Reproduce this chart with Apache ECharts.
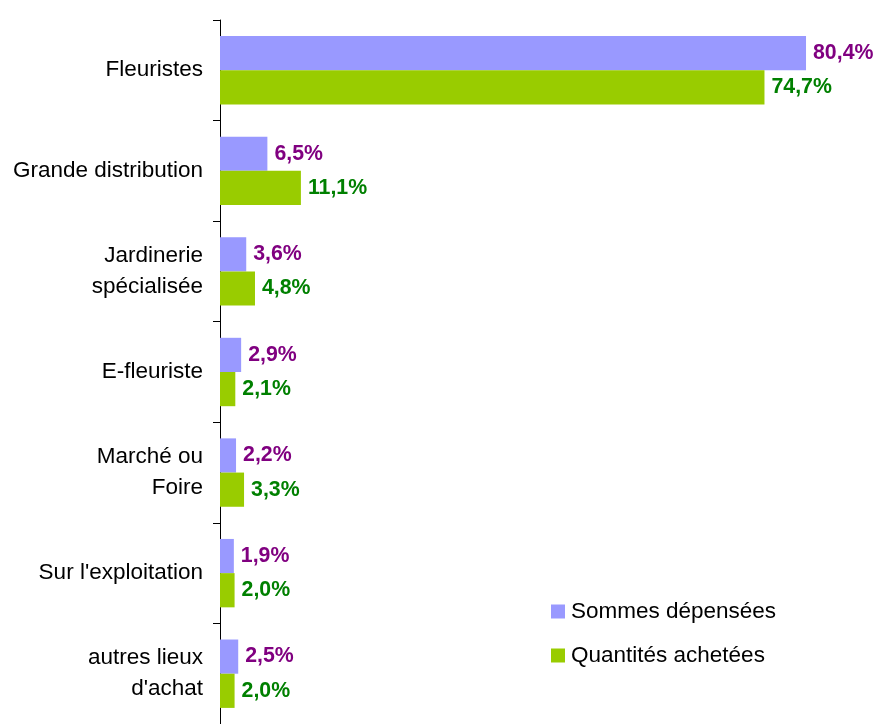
<!DOCTYPE html>
<html>
<head>
<meta charset="utf-8">
<script src="https://cdn.jsdelivr.net/npm/echarts@6/dist/echarts.min.js"></script>
<style>
  html, body { margin: 0; padding: 0; background: #fff; }
  #chart { width: 877px; height: 724px; }
</style>
</head>
<body>
<div id="chart"></div>
<script>
// circuits de distribution
var categories = ['Fleuristes', 'Grande distribution', 'Jardinerie\nspécialisée', 'E-fleuriste',
  'Marché ou\nFoire', "Sur l'exploitation", "autres lieux\nd'achat"];
var sommes = [80.4, 6.5, 3.6, 2.9, 2.2, 1.9, 2.5];
var quantites = [74.7, 11.1, 4.8, 2.1, 3.3, 2.0, 2.0];
var seriesNames = ['Sommes dépensées', 'Quantités achetées'];

function fmt(p) {
  return p.value.toFixed(1).replace('.', ',') + '%';
}

var chart = echarts.init(document.getElementById('chart'));
var option = {
  animation: false,
  textStyle: { fontFamily: 'Liberation Sans, Arial, sans-serif' },
  grid: { left: 220, top: 20, width: 656, bottom: -3 },
  legend: {
    orient: 'vertical',
    left: 546,
    top: 595,
    itemWidth: 14,
    itemHeight: 14,
    itemGap: 21,
    itemStyle: { borderWidth: 0 },
    icon: 'rect',
    textStyle: { fontSize: 22.5, color: '#000', padding: [0, 0, 0, 1] },
    data: seriesNames
  },
  xAxis: {
    type: 'value',
    min: 0,
    max: 90,
    show: false
  },
  yAxis: {
    type: 'category',
    inverse: true,
    data: categories,
    axisLine: { lineStyle: { color: '#000', width: 1 } },
    axisTick: { show: true, length: 7, lineStyle: { color: '#000' } },
    axisLabel: { fontSize: 22.5, color: '#000', margin: 17, lineHeight: 31, align: 'right',
      padding: [3, 0, 0, 0] }
  },
  series: [{
    name: seriesNames[0],
    type: 'bar',
    data: sommes,
    barGap: '0%',
    barCategoryGap: '32%',
    itemStyle: { color: '#9999FF' },
    label: { show: true, position: 'right', distance: 7, formatter: fmt,
      color: '#800080', fontWeight: 'bold', fontSize: 21.3 }
  }, {
    name: seriesNames[1],
    type: 'bar',
    data: quantites,
    itemStyle: { color: '#99CC00' },
    label: { show: true, position: 'right', distance: 7, formatter: fmt,
      color: '#008000', fontWeight: 'bold', fontSize: 21.3 }
  }]
};
chart.setOption(option);
</script>
</body>
</html>
